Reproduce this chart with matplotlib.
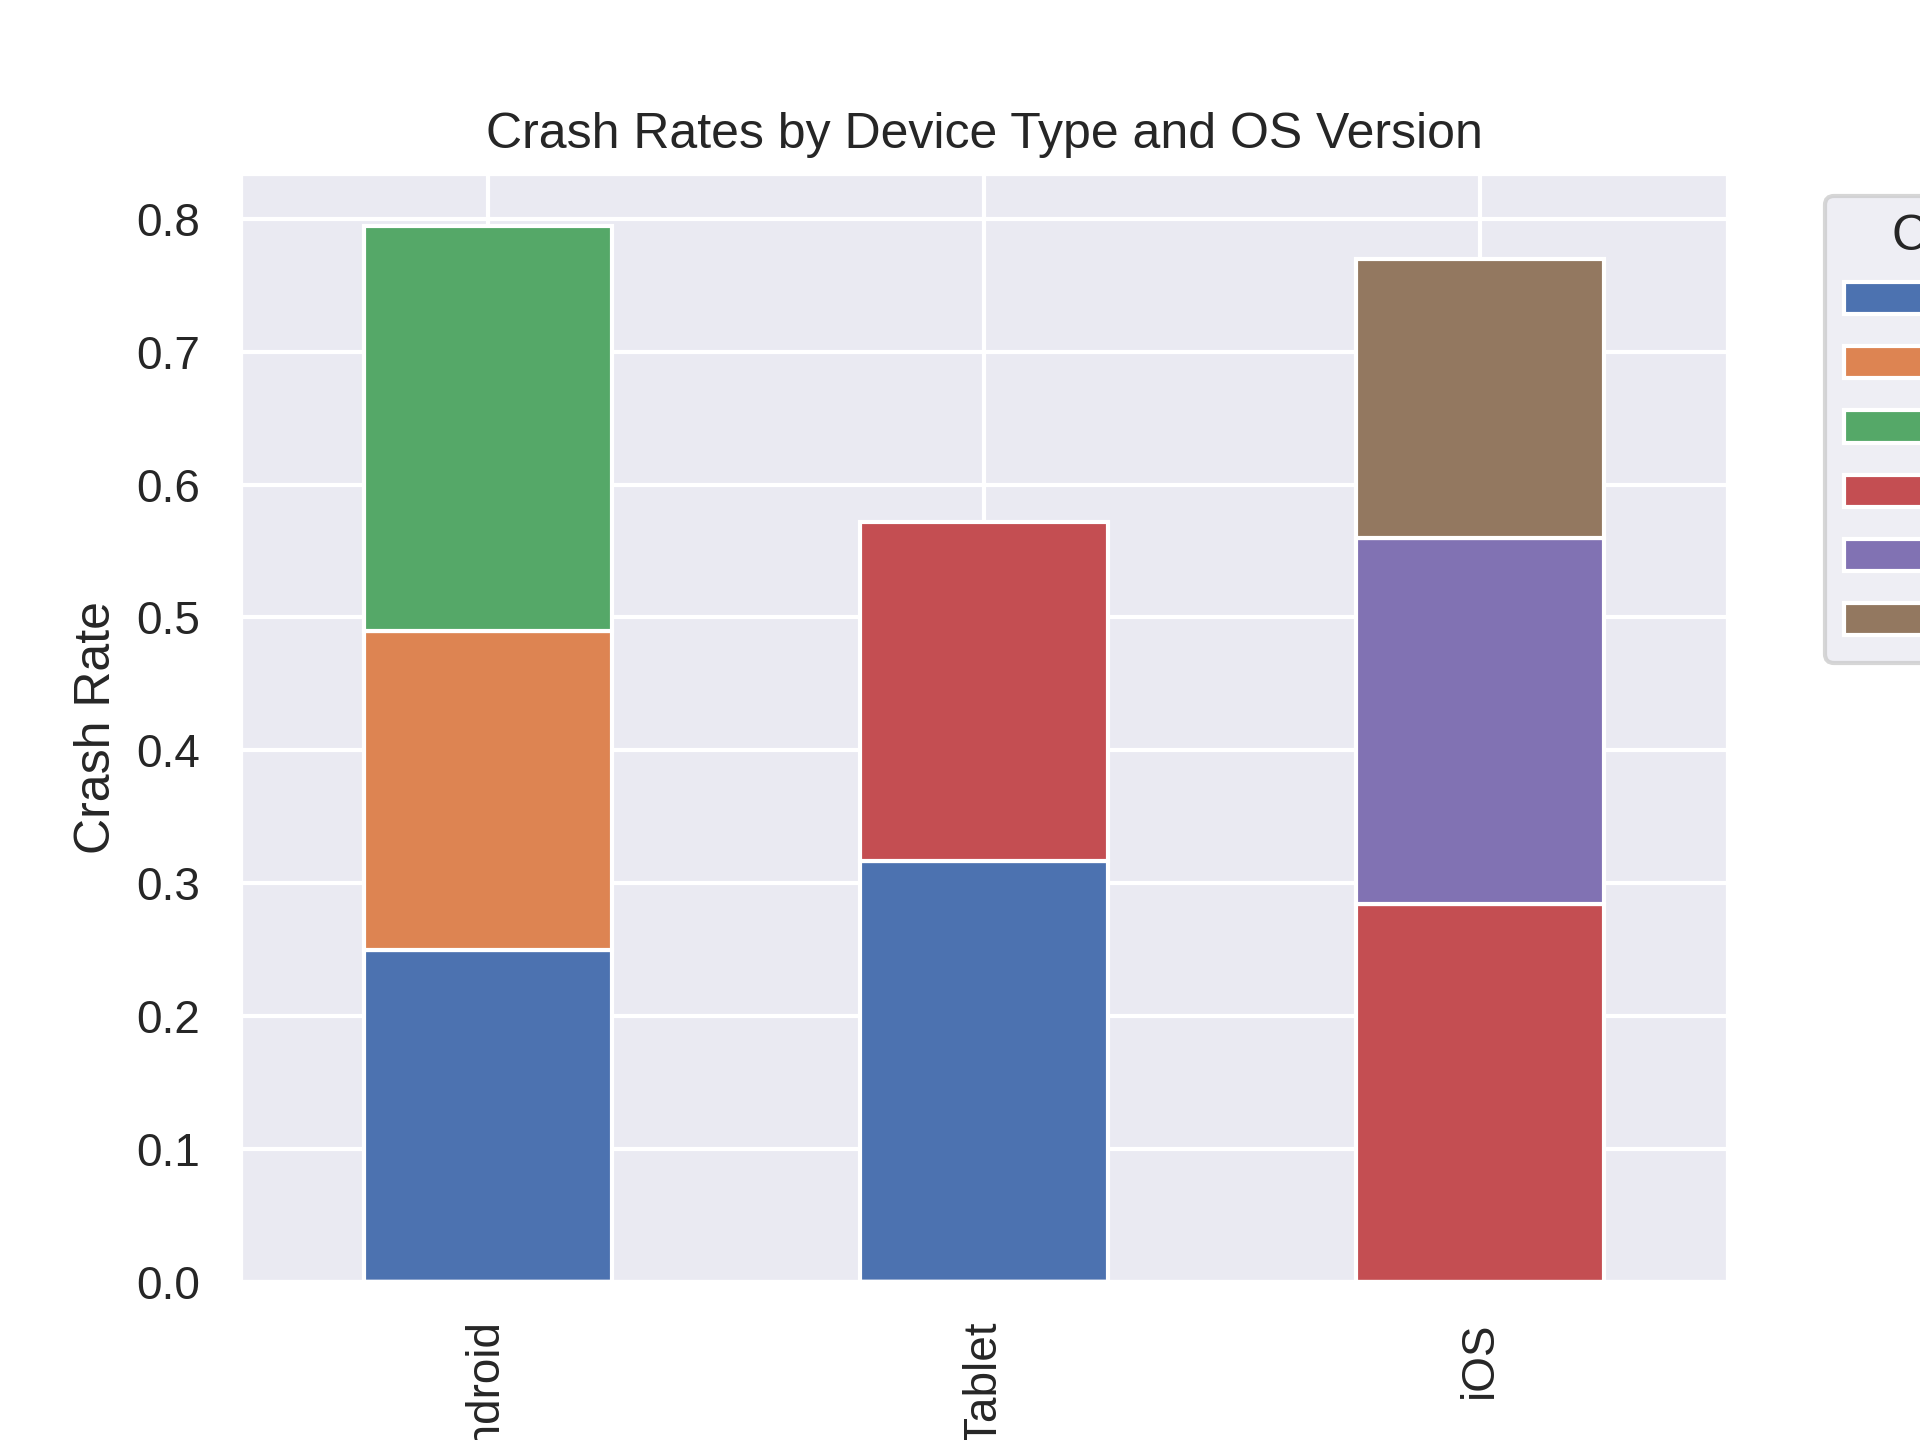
import pandas as pd
import numpy as np
import seaborn as sns
import matplotlib
matplotlib.use('Agg')
import matplotlib.pyplot as plt

sns.set_theme()
# arial-like look, set after the theme
plt.rcParams['font.family'] = ['Liberation Sans', 'DejaVu Sans']

# device types on the x axis
devices = ['Android', 'Tablet', 'iOS']
# os versions (legend entries), nan where a device has no such version
os_versions = ['Android 10', 'Android 11', 'Android 12', 'iOS 14', 'iOS 15', 'iOS 16']
v_android10 = [0.250, 0.317, np.nan]
v_android11 = [0.240, np.nan, np.nan]
v_android12 = [0.305, np.nan, np.nan]
v_ios14 = [np.nan, 0.255, 0.284]
v_ios15 = [np.nan, np.nan, 0.276]
v_ios16 = [np.nan, np.nan, 0.210]

df = pd.DataFrame({
    os_versions[0]: v_android10,
    os_versions[1]: v_android11,
    os_versions[2]: v_android12,
    os_versions[3]: v_ios14,
    os_versions[4]: v_ios15,
    os_versions[5]: v_ios16,
}, index=devices)
df.index.name = 'Device Type'

fig, ax = plt.subplots(figsize=(6.4, 4.8), dpi=300)
df.plot(kind='bar', stacked=True, ax=ax)

ax.set_title('Crash Rates by Device Type and OS Version')
ax.set_ylabel('Crash Rate')
ax.set_xlabel('Device Type')
# legend sits outside the axes on the right, partly off the figure like the original
ax.legend(title='Current OS', bbox_to_anchor=(1.05, 1), loc='upper left',
          labelspacing=0.44)

plt.savefig('out.png', dpi=300)
